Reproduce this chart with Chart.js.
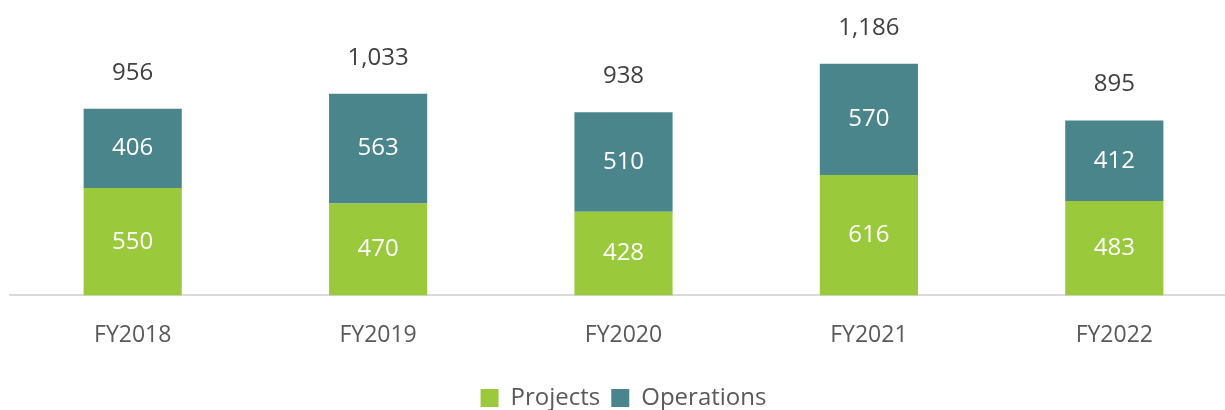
<!DOCTYPE html>
<html><head><meta charset="utf-8">
<script src="https://cdn.jsdelivr.net/npm/chart.js@4"></script>
<style>html,body{margin:0;padding:0;overflow:hidden;background:#fff}#wrap{width:1237px;height:410px;position:relative}</style>
</head><body><div id="wrap"><canvas id="c" width="1237" height="410"></canvas></div>
<script>
const categories = ["FY2018","FY2019","FY2020","FY2021","FY2022"];
const projects = [550,470,428,616,483];
const operations = [406,563,510,570,412];
const totals = [956,1033,938,1186,895];
const FONT = "'Open Sans', sans-serif";

const labelPlugin = {
  id:'labels',
  afterDatasetsDraw(chart){
    const ctx = chart.ctx;
    ctx.save();
    ctx.textAlign='center'; ctx.textBaseline='middle';
    ctx.font = "24px " + FONT;
    chart.data.datasets.forEach((ds,di)=>{
      const meta = chart.getDatasetMeta(di);
      meta.data.forEach((bar,i)=>{
        ctx.fillStyle='#ffffff';
        ctx.fillText(ds.data[i].toLocaleString('en-US'), bar.x, (bar.y+bar.base)/2);
      });
    });
    const y = chart.scales.y;
    const top = chart.getDatasetMeta(1);
    ctx.fillStyle='#404040';
    top.data.forEach((bar,i)=>{
      ctx.fillText(totals[i].toLocaleString('en-US'), bar.x, y.getPixelForValue(totals[i]) - 36);
    });
    ctx.restore();
  }
};

new Chart(document.getElementById('c'),{
  type:'bar',
  data:{labels:categories,datasets:[
    {label:'Projects',data:projects,backgroundColor:'#9ACA3C',categoryPercentage:1,barPercentage:0.4},
    {label:'Operations',data:operations,backgroundColor:'#4B858C',categoryPercentage:1,barPercentage:0.4}
  ]},
  options:{
    responsive:false, animation:false, devicePixelRatio:1,
    layout:{padding:{left:10,right:0,top:22,bottom:-10}},
    scales:{
      x:{stacked:true,grid:{display:false,drawTicks:false},border:{display:true,color:'#d9d9d9',width:2},
         ticks:{color:'#595959',font:{family:FONT,size:23},padding:26,maxRotation:0}},
      y:{stacked:true,display:false,min:0,max:1400}
    },
    plugins:{
      legend:{position:'bottom',labels:{color:'#595959',font:{family:FONT,size:24},boxWidth:18,boxHeight:18,padding:11}},
      tooltip:{enabled:false}
    }
  },
  plugins:[labelPlugin]
});
</script>
</body></html>
